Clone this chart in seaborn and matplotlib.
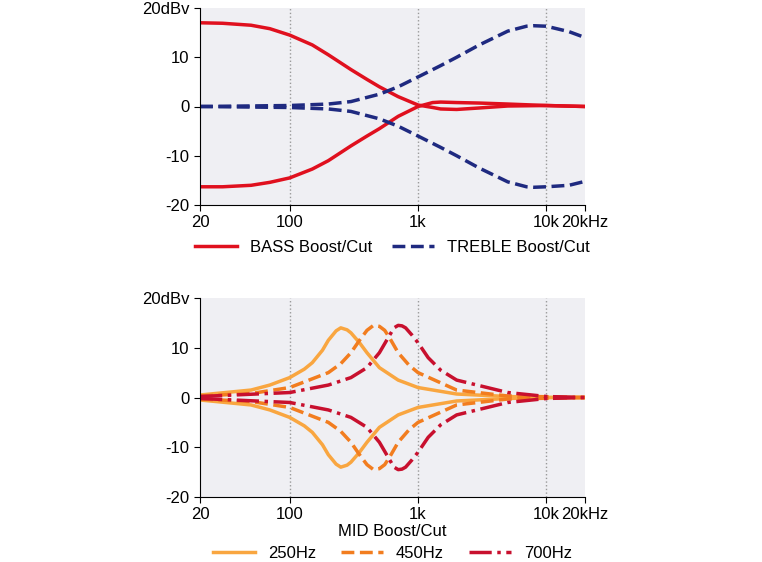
import numpy as np
import pandas as pd
import matplotlib
matplotlib.use("Agg")
import matplotlib.pyplot as plt
import seaborn as sns

plt.rcParams["font.family"] = "Liberation Sans"

bass_f = [20, 30, 50, 70, 100, 150, 200, 300, 400, 500, 700, 1000, 1300, 1500, 2000, 3000, 5000, 10000, 20000]
bass_boost = [17, 16.9, 16.5, 15.8, 14.5, 12.5, 10.5, 7.5, 5.5, 4, 2, 0.3, -0.2, -0.5, -0.6, -0.3, 0.1, 0.2, 0]
bass_cut = [-16.3, -16.3, -16, -15.4, -14.5, -12.7, -11, -8, -6, -4.5, -2, 0, 0.8, 0.9, 0.8, 0.7, 0.5, 0.2, 0]
treb_f = [20, 100, 200, 300, 500, 700, 1000, 1500, 2000, 3000, 5000, 7000, 8000, 10000, 15000, 20000]
treb_boost = [0, 0.2, 0.5, 1, 2.5, 4, 6, 8.3, 10, 12.5, 15.3, 16.3, 16.4, 16.3, 15.2, 14]
treb_cut = [0, -0.2, -0.5, -1, -2.5, -4, -6, -8.3, -10, -12.5, -15.3, -16.3, -16.4, -16.3, -16, -15.2]

m250_f = [20, 50, 70, 100, 130, 150, 180, 200, 230, 250, 280, 300, 350, 400, 500, 700, 1000, 2000, 5000, 10000, 20000]
m250 = [0.5, 1.5, 2.5, 4, 5.7, 7, 9.5, 11.5, 13.4, 14, 13.6, 13, 11, 9, 6, 3.5, 2, 0.7, 0.2, 0, 0]
m450_f = [20, 50, 100, 200, 250, 300, 350, 400, 450, 500, 550, 600, 700, 850, 1000, 2000, 5000, 20000]
m450 = [0.3, 0.8, 2, 5, 6.8, 9, 11.5, 13.5, 14.5, 14.3, 13.5, 12, 9, 6.5, 5, 1.5, 0.3, 0]
m700_f = [20, 100, 200, 300, 400, 500, 600, 650, 700, 750, 800, 900, 1000, 1200, 1500, 2000, 5000, 10000, 20000]
m700 = [0.2, 1, 2.5, 4, 6, 9, 12.5, 14, 14.5, 14.4, 14, 12.5, 11, 8, 5.5, 3.5, 1, 0.2, 0]

xticks = [20, 100, 1000, 10000, 20000]
xlabels = ["20", "100", "1k", "10k", "20kHz"]
yticks = [-20, -10, 0, 10, 20]
ylabels = ["-20", "-10", "0", "10", "20dBv"]

RED = "#e0101e"; NAVY = "#1f2a80"
C250 = "#f9a640"; C450 = "#f27d1f"; C700 = "#c8102e"

fig = plt.figure(figsize=(7.62, 5.62), dpi=100)
ax1 = fig.add_axes([200/762, 1-205/562, 385/762, 197/562])
ax2 = fig.add_axes([200/762, 1-497/562, 385/762, 199/562])

def style(ax):
    ax.set_facecolor("#efeff3")
    ax.set_xscale("log")
    ax.set_xlim(20, 20000); ax.set_ylim(-20, 20)
    ax.set_xticks(xticks); ax.set_xticklabels(xlabels, fontsize=12)
    ax.set_yticks(yticks); ax.set_yticklabels(ylabels, fontsize=12)
    ax.minorticks_off()
    for x in [100, 1000, 10000]:
        ax.axvline(x, color="#999999", ls=":", lw=1, zorder=0)
    for s in ["top", "right"]:
        ax.spines[s].set_visible(False)
    ax.tick_params(length=4)
    ax.set_xlabel(""); ax.set_ylabel("")

sns.lineplot(x=bass_f, y=bass_boost, ax=ax1, color=RED, lw=2.5, label="BASS Boost/Cut")
sns.lineplot(x=bass_f, y=bass_cut, ax=ax1, color=RED, lw=2.5)
sns.lineplot(x=treb_f, y=treb_boost, ax=ax1, color=NAVY, lw=2.5, ls="--", label="TREBLE Boost/Cut")
sns.lineplot(x=treb_f, y=treb_cut, ax=ax1, color=NAVY, lw=2.5, ls="--")
style(ax1)
ax1.legend(loc="upper center", bbox_to_anchor=(0.5, -0.1), ncol=2, frameon=False, fontsize=12,
           handlelength=2.5, columnspacing=1.2)

sns.lineplot(x=m250_f, y=m250, ax=ax2, color=C250, lw=2.5, label="250Hz")
sns.lineplot(x=m250_f, y=[-v for v in m250], ax=ax2, color=C250, lw=2.5)
sns.lineplot(x=m450_f, y=m450, ax=ax2, color=C450, lw=2.5, ls="--", label="450Hz")
sns.lineplot(x=m450_f, y=[-v for v in m450], ax=ax2, color=C450, lw=2.5, ls="--")
sns.lineplot(x=m700_f, y=m700, ax=ax2, color=C700, lw=2.5, ls="-.", label="700Hz")
sns.lineplot(x=m700_f, y=[-v for v in m700], ax=ax2, color=C700, lw=2.5, ls="-.")
style(ax2)
ax2.set_xlabel("MID Boost/Cut", fontsize=12, labelpad=1)
ax2.legend(loc="upper center", bbox_to_anchor=(0.5, -0.17), ncol=3, frameon=False, fontsize=12,
           handlelength=2.5, columnspacing=1.5)

fig.savefig("out.png", dpi=100)
